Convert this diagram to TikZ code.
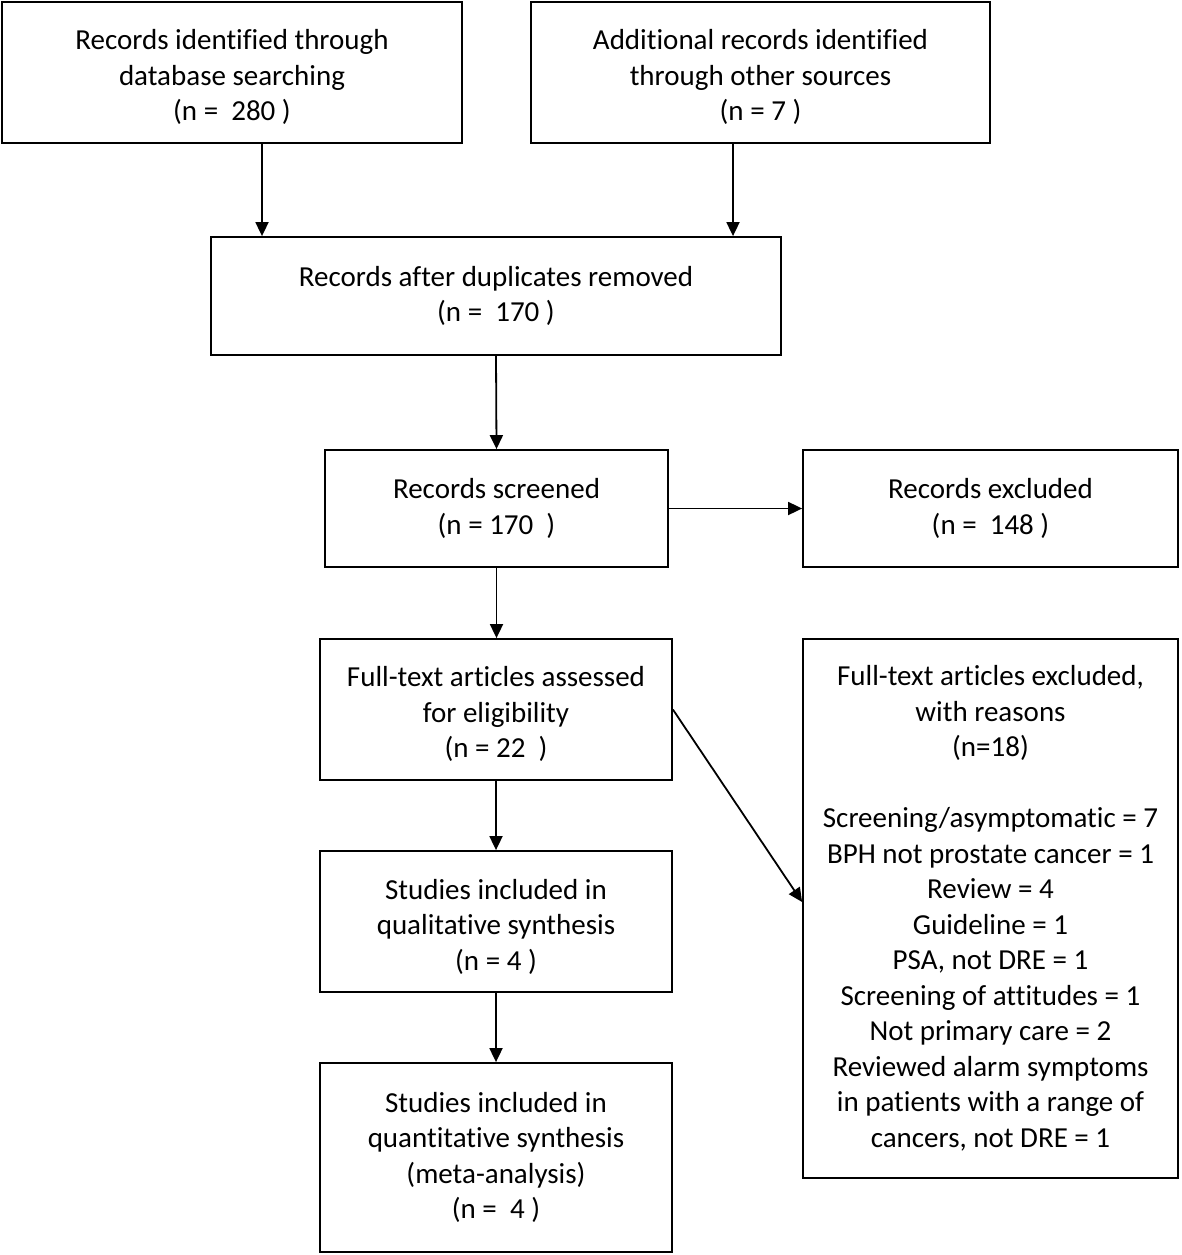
\documentclass[tikz,border=0pt]{standalone}
\usepackage{fontspec}
\setmainfont{Carlito}[Ligatures={NoCommon}]
\usetikzlibrary{arrows.meta}
\newcommand{\lowstrut}{\rule{0pt}{30pt}}
\tikzset{
  box/.style={draw=black, line width=1.8pt, fill=white, rectangle, inner sep=0pt, align=center,
    font=\fontsize{29}{35.5}\selectfont},
  arr/.style={draw=black, line width=1.8pt, -{Triangle[length=14pt,width=13pt]}},
}
\begin{document}
\begin{tikzpicture}[x=1pt,y=-1pt]
\useasboundingbox (0,0) rectangle (1181,1255);
\node[box, minimum width=460pt, minimum height=141pt] (b1) at (232,72.5)
  {\lowstrut Records identified through\\database searching\\(n =\ \ 280 )};
\node[box, minimum width=459pt, minimum height=141pt] (b2) at (760.5,72.5)
  {\lowstrut Additional records identified\\through other sources\\(n = 7 )};
\node[box, minimum width=570pt, minimum height=118pt] (b3) at (496,296)
  {Records after duplicates removed\\(n =\ \ 170 )};
\node[box, minimum width=343pt, minimum height=117pt] (b4) at (496.5,508.5)
  {Records screened\\(n = 170\ \ )};
\node[box, minimum width=375pt, minimum height=117pt] (b5) at (990.5,508.5)
  {Records excluded\\(n =\ \ 148 )};
\node[box, minimum width=352pt, minimum height=141pt] (b6) at (496,709.5)
  {\lowstrut Full-text articles assessed\\for eligibility\\(n = 22\ \ )};
\node[box, minimum width=375pt, minimum height=539pt] (b7) at (990.5,908.5)
  {Full-text articles excluded,\\with reasons\\(n=18)\\[35.5pt]Screening/asymptomatic = 7\\BPH not prostate cancer = 1\\Review = 4\\Guideline = 1\\PSA, not DRE = 1\\Screening of attitudes = 1\\Not primary care = 2\\Reviewed alarm symptoms\\in patients with a range of\\cancers, not DRE = 1};
\node[box, minimum width=352pt, minimum height=141pt] (b8) at (496,921.5)
  {\lowstrut Studies included in\\qualitative synthesis\\(n = 4 )};
\node[box, minimum width=352pt, minimum height=189pt] (b9) at (496,1157.5)
  {Studies included in\\quantitative synthesis\\(meta-analysis)\\(n =\ \ 4 )};
\draw[arr] ([xshift=30pt]b1.south) -- ([xshift=30pt]b1.south |- b3.north);
\draw[arr] ([xshift=-27.5pt]b2.south) -- ([xshift=-27.5pt]b2.south |- b3.north);
\draw[arr] (b3.south) -- (b4.north);
\draw[arr] (b4.east) -- (b5.west);
\draw[arr] (b4.south) -- (b4.south |- b6.north);
\draw[arr] (b6.east) -- ([yshift=6.5pt]b7.west);
\draw[arr] (b6.south) -- (b8.north);
\draw[arr] (b8.south) -- (b9.north);
\end{tikzpicture}
\end{document}
